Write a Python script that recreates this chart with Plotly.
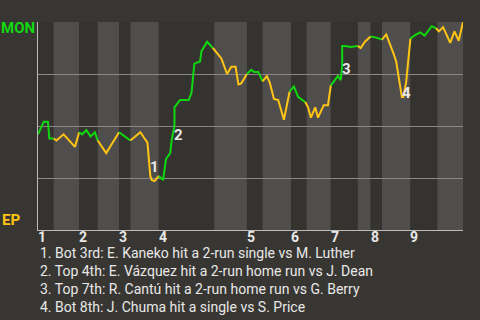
import plotly.graph_objects as go

# ---- data (x = pitch number of the game, y = MON win probability %) ----
pitch = [0, 4, 7, 8, 11,
         13, 18, 23, 26, 29,
         31, 34, 37, 40, 42,
         48, 57,
         65,
         72, 75, 77, 79, 80, 82, 85,
         88, 90, 93, 94, 96, 96, 100, 106, 108, 110, 114, 115, 119, 123,
         126, 129, 133, 136, 139, 141, 143, 147,
         150, 152, 155, 158,
         161, 163, 166, 169, 173, 177,
         180, 183, 188,
         190, 192, 195, 197, 201, 204, 206,
         209, 211, 213, 214, 214, 216, 220, 223, 225,
         227, 230, 234,
         238, 242,
         245, 250, 252, 256, 257, 259, 262,
         266, 269, 272, 277, 280,
         282, 285, 290, 293, 296, 299]
mon_wp = [46, 52, 52, 44, 44,
          43, 46, 42, 40, 47,
          46, 48, 45, 47, 43,
          37, 47,
          43,
          47, 44, 42, 26, 24, 23.5, 26,
          24, 34, 37, 43, 50, 59, 62.5, 62.5, 66, 80, 81, 86, 90.5, 87.5,
          85, 82.5, 75, 78.5, 78.5, 70, 70.5, 75,
          77, 76, 76, 71.5,
          74, 71, 63, 62.5, 53, 66.5,
          69, 64, 61.5,
          59, 54, 59, 54, 60, 60, 69.5,
          72.5, 74, 72, 79, 88.5, 88.5, 88, 88.5, 88.5,
          87.5, 90.5, 93,
          92.5, 91.5,
          94, 85, 81, 64, 64, 71, 92,
          94, 95, 93.5, 98, 97,
          95.5, 97.5, 90, 95.5, 91, 100]

# last pitch of each half inning (Top 1, Bot 1, Top 2, ...)
half_inning_end = [11, 29, 42, 57, 65, 85, 124, 147, 158, 178, 189, 206,
                   225, 234, 242, 262, 281, 299]
innings = ["1", "2", "3", "4", "5", "6", "7", "8", "9"]

event_label = ["1", "2", "3", "4"]
event_label_pitch = [82, 99, 217, 259]
event_label_wp = [30.5, 45.5, 77.5, 66]
event_text = [
    "1. Bot 3rd: E. Kaneko hit a 2-run single vs M. Luther",
    "2. Top 4th: E. Vázquez hit a 2-run home run vs J. Dean",
    "3. Top 7th: R. Cantú hit a 2-run home run vs G. Berry",
    "4. Bot 8th: J. Chuma hit a single vs S. Price",
]
team_top = "MON"
team_bottom = "EP"

# ---- style ----
PAPER = "#383632"
DARK = "#353330"
LIGHT = "#4f4e4c"
GREEN = "#10d810"
YELLOW = "#ffc414"
GRID = "#8a8886"
AXIS = "#bdbbb8"
TEXT = "#e8e8e8"
FONT = "Roboto"

fig = go.Figure()

# alternating half-inning bands
starts = [0] + half_inning_end[:-1]
for i, (a, b) in enumerate(zip(starts, half_inning_end)):
    fig.add_shape(type="rect", xref="x", yref="y", x0=a, x1=b, y0=0, y1=100,
                  fillcolor=DARK if i % 2 == 0 else LIGHT, line_width=0,
                  layer="below")

# line segments coloured by batting team
prev = None
for h, end in enumerate(half_inning_end):
    lo = starts[h] if h > 0 else -1
    idx = [k for k, p in enumerate(pitch) if lo < p <= end]
    if not idx:
        continue
    if prev is not None:
        idx = [prev] + idx
    prev = idx[-1]
    fig.add_trace(go.Scatter(
        x=[pitch[k] for k in idx], y=[mon_wp[k] for k in idx],
        mode="lines", line=dict(color=GREEN if h % 2 == 0 else YELLOW, width=2),
        hoverinfo="skip", showlegend=False))

annotations = []
for lab, px, wy in zip(event_label, event_label_pitch, event_label_wp):
    annotations.append(dict(x=px, y=wy, xref="x", yref="y", text=lab,
                            showarrow=False,
                            font=dict(family=FONT, size=15, color=TEXT,
                                      weight="bold")))
for lab, h in zip(innings, range(0, 18, 2)):
    annotations.append(dict(x=starts[h], y=0, xref="x", yref="paper", text=lab,
                            showarrow=False, xanchor="left", yanchor="top",
                            xshift=-2, yshift=3,
                            font=dict(family=FONT, size=14, color=TEXT,
                                      weight="bold")))
annotations.append(dict(x=0, y=97, xref="paper", yref="y", text=team_top,
                        showarrow=False, xanchor="right", yanchor="middle",
                        xshift=-1,
                        font=dict(family=FONT, size=15, color=GREEN,
                                  weight="bold")))
annotations.append(dict(x=0, y=5, xref="paper", yref="y", text=team_bottom,
                        showarrow=False, xanchor="right", yanchor="middle",
                        xshift=-16,
                        font=dict(family=FONT, size=15, color=YELLOW,
                                  weight="bold")))
for i, t in enumerate(event_text):
    annotations.append(dict(x=0, y=0, xref="paper", yref="paper", text=t,
                            showarrow=False, xanchor="left", yanchor="middle",
                            yshift=-23 - 18 * i,
                            font=dict(family=FONT, size=14, color=TEXT)))

fig.update_layout(
    width=480, height=320,
    margin=dict(l=38, r=17, t=22, b=90),
    paper_bgcolor=PAPER, plot_bgcolor=DARK,
    showlegend=False,
    annotations=annotations,
    xaxis=dict(range=[0, 299], showgrid=False, zeroline=False,
               showticklabels=False, ticks="", showline=True,
               linecolor=AXIS, linewidth=1, fixedrange=True),
    yaxis=dict(range=[0, 100], tickvals=[25, 50, 75, 100], showgrid=True,
               gridcolor=GRID, gridwidth=1, zeroline=False,
               showticklabels=False, ticks="", showline=True,
               linecolor=AXIS, linewidth=1, fixedrange=True),
)

fig.write_html("out.html", config={"displayModeBar": False})
